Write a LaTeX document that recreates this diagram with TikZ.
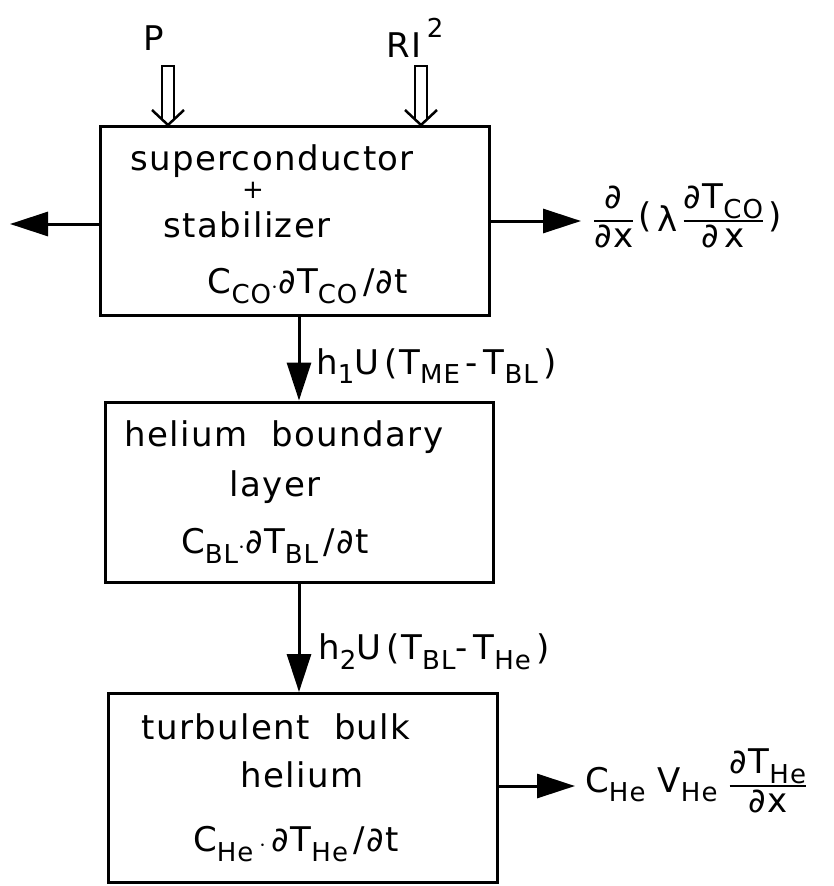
\documentclass[tikz,border=0pt]{standalone}
\usepackage{fontspec}
\setmainfont{DejaVu Sans}[LetterSpace=4]
\usepackage{tikz}
\usetikzlibrary{arrows.meta}

\newcommand{\sub}[1]{\raisebox{-0.28em}{\fontsize{26}{26}\selectfont #1}}
\newcommand{\fr}[2]{\renewcommand{\arraystretch}{0.95}\begin{tabular}{@{}c@{}}#1\\\hline #2\end{tabular}}
\setlength{\arrayrulewidth}{2.5pt}

\tikzset{
    blk/.style={draw, line width=3pt, inner sep=0pt},
    txt/.style={inner sep=0pt, font=\fontsize{34}{38}\selectfont},
    flow/.style={line width=3pt, -{Triangle[length=38pt,width=24pt]}},
    inflow/.pic={
        \draw[line width=2.5pt] (-6,-4.7) -- (-6,-59) -- (6,-59) -- (6,-4.7);
        \draw[line width=2.5pt] (-16,-15) -- (0,0) -- (16,-15);
    }
}

\begin{document}
\begin{tikzpicture}[x=1pt,y=-1pt]
    \useasboundingbox (0,0) rectangle (833,886);
    % the three boxes
    \node[blk, minimum width=389pt, minimum height=189pt] (co) at (294.5,220.5) {};
    \node[blk, minimum width=388pt, minimum height=180pt] (bl) at (299,492) {};
    \node[blk, minimum width=389pt, minimum height=189pt] (he) at (302.5,788) {};

    % texts in the boxes
    \node[txt] (co1) at (272,161) {superconductor};
    \node[txt, font=\fontsize{26}{26}\selectfont] (co2) at (253,190) {+};
    \node[txt] (co3) at (247,225) {stabilizer};
    \node[txt] (co4) at (308,286) {C\sub{CO}$\cdot$∂T\sub{CO}\,/∂t};
    \node[txt] (bl1) at (284,437) {helium\ \ boundary};
    \node[txt] (bl2) at (275,487) {layer};
    \node[txt] (bl3) at (275,546) {C\sub{BL}$\cdot$∂T\sub{BL}\,/∂t};
    \node[txt] (he1) at (276,727) {turbulent\ \ bulk};
    \node[txt] (he2) at (302,775) {helium};
    \node[txt] (he3) at (296,844) {C\sub{He}\,$\cdot$\,∂T\sub{He}\,/∂t};

    % heat inputs
    \node[txt] (P) at (154,38) {P};
    \node[txt, anchor=west] (RI) at (386,38) {RI\,\raisebox{0.6em}{\fontsize{26}{26}\selectfont 2}};
    \pic at (168,125) {inflow};
    \pic at (421,125) {inflow};

    % heat flows
    \coordinate (lossL) at (10,224);
    \draw[flow] (co.west |- lossL) -- (lossL);
    \node[txt, anchor=west] (cond) at (594,221)
        {\fr{∂}{∂x}\,(\,\raisebox{-0.12em}{λ}\,\fr{∂T\sub{CO}}{∂\,x}\,)};
    \draw[flow, shorten >=13pt] (co.east |- cond) -- (cond.west);
    \draw[flow] (bl.north |- co.south) -- (bl.north);
    \node[txt, anchor=west] (h1) at (316,366) {h\sub{1}U\,(T\sub{ME}\,-\,T\sub{BL}\,)};
    \draw[flow] (bl.south) -- (bl.south |- he.north);
    \node[txt, anchor=west] (h2) at (318,652) {h\sub{2}U\,(T\sub{BL}-\,T\sub{He}\,)};
    \node[txt, anchor=west] (conv) at (585,786)
        {C\sub{He}\ V\sub{He}\ \fr{∂T\sub{He}}{∂x}};
    \draw[flow, shorten >=10pt] (he.east |- conv) -- (conv.west);
\end{tikzpicture}
\end{document}
